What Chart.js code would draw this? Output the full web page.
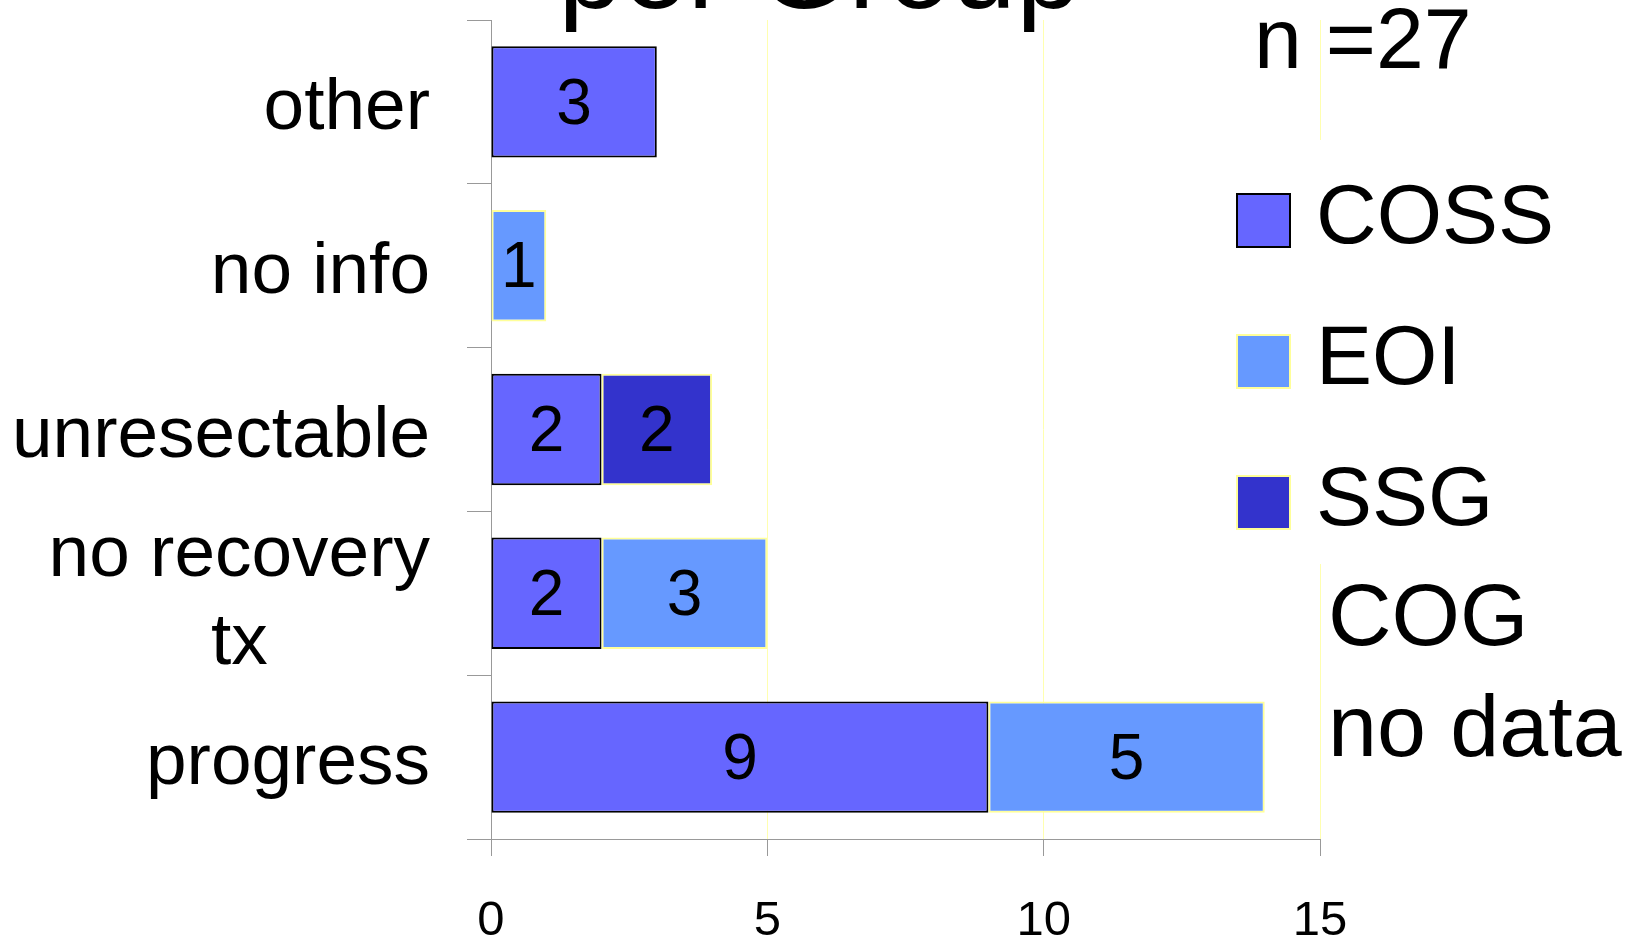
<!DOCTYPE html>
<html>
<head>
<meta charset="utf-8">
<title>per Group</title>
<script src="https://cdn.jsdelivr.net/npm/chart.js@4.4.1/dist/chart.umd.min.js"></script>
<style>
  body { margin: 0; background: #fff; }
  #chart { display: block; }
</style>
</head>
<body>
<canvas id="chart" width="1639" height="942"></canvas>
<script>
// categories, top to bottom
var categories = ['other', 'no info', 'unresectable', ['no recovery', 'tx'], 'progress'];
var coss = [3, null, 2, 2, 9];
var eoi = [null, 1, null, 3, 5];
var ssg = [null, null, 2, null, null];
var cog = [null, null, null, null, null];
var xTicks = [0, 5, 10, 15];
var totalN = 27;
var titleText = 'per Group';

var FONT = '"Liberation Sans", Arial, sans-serif';
var AXIS_GRAY = '#999999';

// value inside each bar segment
var valueLabels = {
    id: 'valueLabels',
    afterDatasetsDraw: function (chart) {
        var ctx = chart.ctx;
        ctx.save();
        ctx.font = '64px ' + FONT;
        ctx.fillStyle = '#000';
        ctx.textAlign = 'center';
        ctx.textBaseline = 'middle';
        chart.data.datasets.forEach(function (ds, i) {
            chart.getDatasetMeta(i).data.forEach(function (bar, j) {
                if (ds.data[j] == null) return;
                var c = bar.getCenterPoint();
                ctx.fillText(ds.data[j], c.x, c.y + 4);
            });
        });
        ctx.restore();
    }
};

// category names: block right aligned, lines centred on each other
var categoryLabels = {
    id: 'categoryLabels',
    afterDraw: function (chart) {
        var ctx = chart.ctx;
        var yScale = chart.scales.y;
        var right = yScale.right - 24 - 37;
        var lineH = 88;
        ctx.save();
        ctx.font = '73px ' + FONT;
        ctx.fillStyle = '#000';
        ctx.textAlign = 'center';
        ctx.textBaseline = 'middle';
        categories.forEach(function (label, i) {
            var lines = Array.isArray(label) ? label : [label];
            var w = 0;
            lines.forEach(function (l) { w = Math.max(w, ctx.measureText(l).width); });
            var cy = yScale.getPixelForTick(i) + 7;
            lines.forEach(function (l, k) {
                ctx.fillText(l, right - w / 2, cy + (k - (lines.length - 1) / 2) * lineH);
            });
        });
        ctx.restore();
    }
};

// legend, n and cut-off title
var sideTexts = {
    id: 'sideTexts',
    afterDraw: function (chart) {
        var ctx = chart.ctx;
        var area = chart.chartArea;
        ctx.save();

        ctx.fillStyle = '#000';
        ctx.font = '116px ' + FONT;
        ctx.textAlign = 'center';
        ctx.textBaseline = 'alphabetic';
        ctx.fillText(titleText, chart.width / 2, 8);

        ctx.font = '86px ' + FONT;
        ctx.textAlign = 'left';
        ctx.fillText('n =' + totalN, area.right - 66, 68);

        ctx.fillStyle = '#fff';
        ctx.fillRect(area.right - 95, 140, chart.width - area.right + 95, 424);

        ctx.font = '84px ' + FONT;
        ctx.textBaseline = 'middle';
        var y = 220;
        chart.data.datasets.forEach(function (ds) {
            var hasData = ds.data.some(function (v) { return v != null; });
            if (hasData) {
                ctx.fillStyle = ds.backgroundColor;
                ctx.fillRect(area.right - 83, y - 26, 53, 53);
                ctx.strokeStyle = ds.borderColor;
                ctx.lineWidth = 2;
                ctx.strokeRect(area.right - 83, y - 26, 53, 53);
                ctx.fillStyle = '#000';
                ctx.fillText(ds.label, area.right - 4, y);
                y += 141;
            } else {
                ctx.fillStyle = '#000';
                ctx.font = '88px ' + FONT;
                ctx.textBaseline = 'alphabetic';
                ctx.fillText(ds.label, area.right + 8, 645);
                ctx.fillText('no data', area.right + 8, 756);
            }
        });
        ctx.restore();
    }
};

var ctx = document.getElementById('chart').getContext('2d');
var chart = new Chart(ctx, {
    type: 'bar',
    data: {
        labels: categories,
        datasets: [
            { label: 'COSS', data: coss, backgroundColor: '#6666ff', borderColor: '#000000' },
            { label: 'EOI', data: eoi, backgroundColor: '#6699ff', borderColor: '#ffff99' },
            { label: 'SSG', data: ssg, backgroundColor: '#3333cc', borderColor: '#ffff99' },
            { label: 'COG', data: cog, backgroundColor: '#6699ff', borderColor: '#ffff99' }
        ]
    },
    options: {
        indexAxis: 'y',
        responsive: false,
        animation: false,
        devicePixelRatio: 1,
        layout: { padding: { top: 20, right: 319, bottom: 0, left: 0 } },
        datasets: {
            bar: {
                borderWidth: 2,
                borderSkipped: false,
                barPercentage: 0.68,
                categoryPercentage: 1
            }
        },
        plugins: {
            legend: { display: false },
            title: { display: false },
            tooltip: { enabled: false }
        },
        scales: {
            x: {
                stacked: true,
                min: 0,
                max: 15,
                afterBuildTicks: function (scale) {
                    scale.ticks = xTicks.map(function (v) { return { value: v }; });
                },
                afterFit: function (scale) { scale.height = 103; },
                grid: {
                    color: function (c) { return c.tick && c.tick.value === 0 ? 'rgba(0,0,0,0)' : '#ffffb0'; },
                    tickColor: AXIS_GRAY,
                    tickLength: 17,
                    lineWidth: 1
                },
                border: { color: AXIS_GRAY, width: 1 },
                ticks: {
                    color: '#000',
                    font: { family: FONT, size: 49 },
                    padding: 36,
                    maxRotation: 0
                }
            },
            y: {
                stacked: true,
                afterFit: function (scale) { scale.width = 491; },
                grid: {
                    drawOnChartArea: false,
                    tickColor: AXIS_GRAY,
                    tickLength: 24,
                    offset: true
                },
                border: { color: AXIS_GRAY, width: 1 },
                ticks: { display: false }
            }
        }
    },
    plugins: [valueLabels, categoryLabels, sideTexts]
});
</script>
</body>
</html>
